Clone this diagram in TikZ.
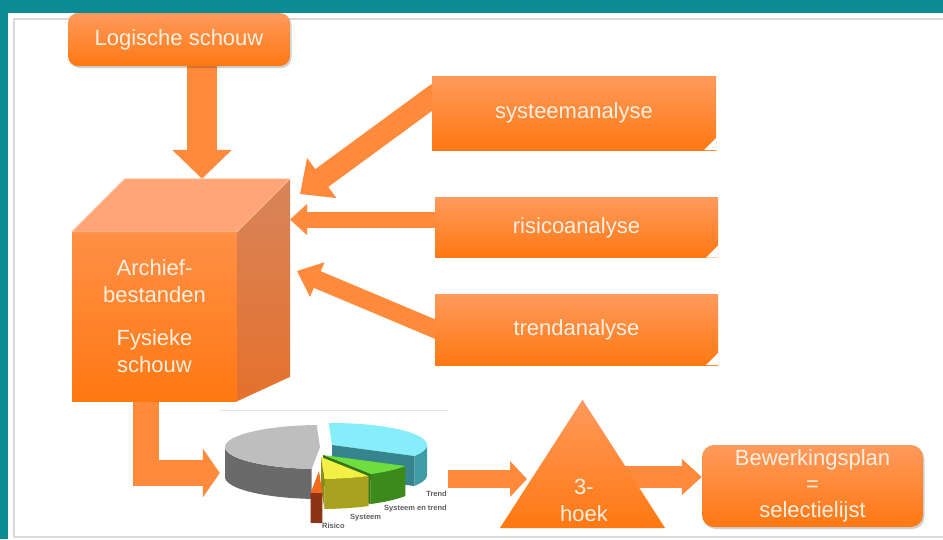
\documentclass[tikz,border=0pt]{standalone}
\usepackage{fontspec}
\setmainfont{Liberation Sans}
\usetikzlibrary{arrows.meta,calc,shadows}
\definecolor{tealbg}{HTML}{0B8B93}
\definecolor{orA}{HTML}{FF9A5C}
\definecolor{orB}{HTML}{FF7812}
\definecolor{arr}{HTML}{FF8A3C}
\definecolor{txt}{HTML}{FFEFE2}
\definecolor{cubetop}{HTML}{FFA577}
\definecolor{cubeRA}{HTML}{D7845A}
\definecolor{cubeRB}{HTML}{E5712C}
\definecolor{panelline}{HTML}{DADADA}
\definecolor{pgrayT}{HTML}{BEBEBE}
\definecolor{pgrayS}{HTML}{6A6A6A}
\definecolor{pcyanT}{HTML}{86EEFA}
\definecolor{pcyanS}{HTML}{3F9BA6}
\definecolor{pgreenT}{HTML}{6FDD3E}
\definecolor{pgreenS}{HTML}{3C8A1C}
\definecolor{pyelT}{HTML}{F2F044}
\definecolor{pyelS}{HTML}{A8A21E}
\definecolor{porT}{HTML}{F26A1E}
\definecolor{porS}{HTML}{8E3414}
\definecolor{plabel}{HTML}{5E5E5E}
\pgfdeclarelayer{back}
\pgfdeclarelayer{arrowlayer}
\pgfsetlayers{back,arrowlayer,main}
% pie slice: ox oy a1 a2 s1 s2 topcolor sidecolor
\newcommand\myslice[8]{%
  \begin{scope}[shift={(#1,#2)}]
  \fill[#8] plot[domain=#5:#6,samples=20] ({320+95*cos(\x)},{447+22*sin(\x)})
     -- plot[domain=#6:#5,samples=20] ({320+95*cos(\x)},{477+22*sin(\x)}) -- cycle;
  \fill[#7] (320,447) -- plot[domain=#3:#4,samples=30] ({320+95*cos(\x)},{447+22*sin(\x)}) -- cycle;
  \end{scope}}
% cut face: ox oy angle color
\newcommand\myface[4]{%
  \begin{scope}[shift={(#1,#2)}]
  \fill[#4] (320,447) -- ({320+95*cos(#3)},{447+22*sin(#3)}) -- ({320+95*cos(#3)},{477+22*sin(#3)}) -- (320,477) -- cycle;
  \end{scope}}
\begin{document}
\begin{tikzpicture}[x=1pt,y=-1pt,
  lbl/.style={text=txt, font=\fontsize{22}{27}\selectfont, align=center, inner sep=0pt},
  softshadow/.style={drop shadow={shadow xshift=1.5pt, shadow yshift=-2pt, opacity=0.18, fill=black}},
  obox/.style={lbl, top color=orA, bottom color=orB},
  snipbox/.style={obox, path picture={\fill[white] ([xshift=-12pt]path picture bounding box.south east) -- (path picture bounding box.south east) -- ([yshift=12pt]path picture bounding box.south east) -- cycle;}},
  blk/.style={draw=arr, line join=miter},
  plbl/.style={text=plabel, font=\bfseries\fontsize{7.5}{9}\selectfont, inner sep=0pt}]
\useasboundingbox (0,0) rectangle (943,539);
\begin{pgfonlayer}{back}
  \fill[tealbg] (0,0) rectangle (943,539);
  \fill[white] (8,13) rectangle (943,539);
  \draw[panelline, line width=2.5pt] (943,19) -- (14,19) -- (14,537) -- (943,537);
\end{pgfonlayer}

% nodes
\node[obox, softshadow, rounded corners=10pt, minimum width=222pt, minimum height=53pt] (logic) at (179,39.5) {Logische schouw};
\node[snipbox, minimum width=284pt, minimum height=74pt] (sys) at (574,113) {systeemanalyse};
\node[snipbox, minimum width=283pt, minimum height=60pt] (risk) at (576.5,227.5) {risicoanalyse};
\node[snipbox, minimum width=283pt, minimum height=71pt] (trend) at (576.5,329.5) {trendanalyse};
\node[lbl, minimum width=165pt, minimum height=169pt, top color=orA!70!orB, bottom color=orB] (cube) at (154.5,316.5) {Archief-\\bestanden\\[16pt]Fysieke\\schouw};
\fill[cubetop] (cube.north west) -- ++(53,-53) -- ($(cube.north east)+(53,-53)$) -- (cube.north east) -- cycle;
\shade[top color=cubeRA, bottom color=cubeRB] (cube.north east) -- ++(53,-53) -- ++(0,198) -- (cube.south east) -- cycle;
\draw[orA!60!white, line width=0.6pt] (cube.north west) -- ++(53,-53) -- ($(cube.north east)+(53,-53)$) -- (cube.north east) -- cycle;
\coordinate (cubeback) at ($(cube.north west)+(53,-53)$);

\node[minimum width=228pt, minimum height=125pt, inner sep=0pt] (pie) at (334,473) {};
\draw[panelline!70!white, line width=1pt] (pie.north west) -- (pie.north east);

\node[minimum width=165pt, minimum height=128pt, inner sep=0pt] (tri) at (582.5,464) {};
\shade[top color=orA, bottom color=orB] (tri.north) -- (tri.south east) -- (tri.south west) -- cycle;
\node[lbl] (tritext) at (584,500) {3-\\hoek};

\node[obox, softshadow, rounded corners=12pt, minimum width=221pt, minimum height=82pt, font=\fontsize{22}{26}\selectfont] (bew) at (812.5,486) {Bewerkingsplan\\=\\selectielijst};

% pie chart
\begin{scope}
  \clip (pie.north west) rectangle (pie.south east);
  \myslice{0}{0}{95}{268}{95}{180}{pgrayT}{pgrayS}
  \myslice{12}{-2}{-92}{30}{0}{30}{pcyanT}{pcyanS}
  \myface{12}{-2}{30}{pcyanS!85!black}
  \myslice{3}{8}{30}{60}{30}{60}{pgreenT}{pgreenS}
  \myface{3}{8}{60}{pgreenS!85!black}
  \myslice{1}{10}{60}{88}{60}{88}{pyelT}{pyelS}
  \myface{1}{10}{88}{pyelS!85!black}
  \myslice{-1}{24}{88}{95}{88}{95}{porT}{porS}
  \node[plbl, anchor=east] (lt) at (447,494) {Trend};
  \node[plbl, anchor=west] (lse) at (384,509) {Systeem en trend};
  \node[plbl, anchor=west] (ls) at (350,518) {Systeem};
  \node[plbl, anchor=west] (lr) at (322,526) {Risico};
\end{scope}

% connectors
\coordinate (c2) at (300,194);
\coordinate (c3) at (290,219.5);
\coordinate (c4) at (297,271);
\coordinate (c6) at (527,479);
\coordinate (c7) at (622,477);
\begin{pgfonlayer}{arrowlayer}
  \draw[blk, line width=30pt, -{Triangle[width=58pt,length=29pt]}] ([xshift=23pt,yshift=6pt]logic.south) -- ([xshift=23pt]logic.south |- cubeback);
  \draw[blk, line width=22pt, -{Triangle[width=48pt,length=27pt]}] ([xshift=6pt,yshift=20pt]sys.west) -- (c2);
  \draw[blk, line width=16pt, -{Triangle[width=30pt,length=17pt]}] ([xshift=6pt,yshift=8pt]risk.west) -- (c3);
  \draw[blk, line width=18pt, -{Triangle[width=36pt,length=22pt]}] ([xshift=6pt,yshift=-2pt]trend.west) -- (c4);
  \draw[blk, line width=26pt, -{Triangle[width=48pt,length=17pt]}] ([xshift=-9pt,yshift=4pt]cube.south) |- (pie.west);
  \draw[blk, line width=18pt, -{Triangle[width=35pt,length=17pt]}] (pie.east |- c6) -- (c6);
  \draw[blk, line width=22pt, -{Triangle[width=35pt,length=20pt]}] (c7) -- (bew.west |- c7);
\end{pgfonlayer}
\end{tikzpicture}
\end{document}
